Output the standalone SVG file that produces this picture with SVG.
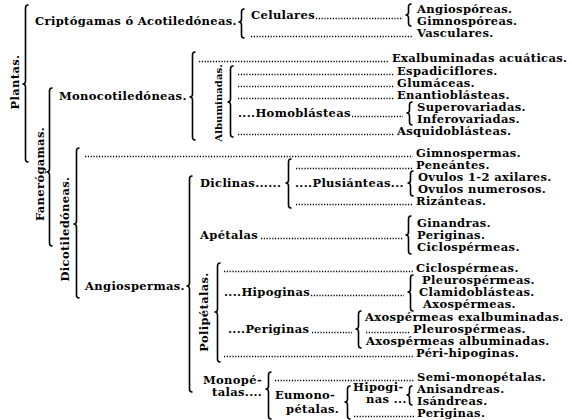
<svg xmlns="http://www.w3.org/2000/svg" width="572" height="420" viewBox="0 0 572 420">
<style>
text{font-family:"DejaVu Serif","Liberation Serif",serif;font-weight:bold;font-size:10.3px;letter-spacing:0.3px;fill:#000}
.v{text-anchor:middle}
.sm{font-size:9.2px;letter-spacing:0}
.b{fill:none;stroke:#000;stroke-width:1.6;stroke-linecap:round;stroke-linejoin:round}
.d{stroke:#000;stroke-width:1.3;stroke-dasharray:1.2 1.6}
</style>
<rect width="572" height="420" fill="#fff"/>
<g id="connectors">
<path class="b" d="M28,5 Q25.5,5 25.5,8 L25.5,81 Q25.5,84 23,84 Q25.5,84 25.5,87 L25.5,159 Q25.5,162 28,162"/>
<path class="b" d="M244,9 Q241.5,9 241.5,12 L241.5,19 Q241.5,22 239,22 Q241.5,22 241.5,25 L241.5,35 Q241.5,38 244,38"/>
<path class="b" d="M411,4 Q408.5,4 408.5,7 L408.5,12 Q408.5,15 406,15 Q408.5,15 408.5,18 L408.5,23 Q408.5,26 411,26"/>
<path class="b" d="M52,88 Q49.5,88 49.5,91 L49.5,169 Q49.5,172 47,172 Q49.5,172 49.5,175 L49.5,243 Q49.5,246 52,246"/>
<path class="b" d="M195,52 Q192.5,52 192.5,55 L192.5,94 Q192.5,97 190,97 Q192.5,97 192.5,100 L192.5,137 Q192.5,140 195,140"/>
<path class="b" d="M233,66 Q230.5,66 230.5,69 L230.5,99 Q230.5,102 228,102 Q230.5,102 230.5,105 L230.5,134 Q230.5,137 233,137"/>
<path class="b" d="M412,102 Q409.5,102 409.5,105 L409.5,110 Q409.5,113 407,113 Q409.5,113 409.5,116 L409.5,122 Q409.5,125 412,125"/>
<path class="b" d="M79,148 Q76.5,148 76.5,151 L76.5,221 Q76.5,224 74,224 Q76.5,224 76.5,227 L76.5,295 Q76.5,298 79,298"/>
<path class="b" d="M192,176 Q189.5,176 189.5,179 L189.5,283 Q189.5,286 187,286 Q189.5,286 189.5,289 L189.5,389 Q189.5,392 192,392"/>
<path class="b" d="M291,159 Q288.5,159 288.5,162 L288.5,180 Q288.5,183 286,183 Q288.5,183 288.5,186 L288.5,205 Q288.5,208 291,208"/>
<path class="b" d="M413,171 Q410.5,171 410.5,174 L410.5,180 Q410.5,183 408,183 Q410.5,183 410.5,186 L410.5,193 Q410.5,196 413,196"/>
<path class="b" d="M411,216 Q408.5,216 408.5,219 L408.5,232 Q408.5,235 406,235 Q408.5,235 408.5,238 L408.5,251 Q408.5,254 411,254"/>
<path class="b" d="M220,263 Q217.5,263 217.5,266 L217.5,309 Q217.5,312 215,312 Q217.5,312 217.5,315 L217.5,359 Q217.5,362 220,362"/>
<path class="b" d="M413,275 Q410.5,275 410.5,278 L410.5,289 Q410.5,292 408,292 Q410.5,292 410.5,295 L410.5,308 Q410.5,311 413,311"/>
<path class="b" d="M361,311 Q358.5,311 358.5,314 L358.5,326 Q358.5,329 356,329 Q358.5,329 358.5,332 L358.5,345 Q358.5,348 361,348"/>
<path class="b" d="M271,372 Q268.5,372 268.5,375 L268.5,386 Q268.5,389 266,389 Q268.5,389 268.5,392 L268.5,416 Q268.5,419 271,419"/>
<path class="b" d="M350,386 Q347.5,386 347.5,389 L347.5,399 Q347.5,402 345,402 Q347.5,402 347.5,405 L347.5,416 Q347.5,419 350,419"/>
<path class="b" d="M412,386 Q409.5,386 409.5,389 L409.5,392 Q409.5,395 407,395 Q409.5,395 409.5,398 L409.5,402 Q409.5,405 412,405"/>
<line class="d" x1="316" y1="18.5" x2="403" y2="18.5"/>
<line class="d" x1="251" y1="36.5" x2="412" y2="36.5"/>
<line class="d" x1="199" y1="61.5" x2="389" y2="61.5"/>
<line class="d" x1="238" y1="74.5" x2="394" y2="74.5"/>
<line class="d" x1="238" y1="86.5" x2="394" y2="86.5"/>
<line class="d" x1="238" y1="98.5" x2="394" y2="98.5"/>
<line class="d" x1="352" y1="116.5" x2="403" y2="116.5"/>
<line class="d" x1="238" y1="134.5" x2="394" y2="134.5"/>
<line class="d" x1="85" y1="156.5" x2="413" y2="156.5"/>
<line class="d" x1="296" y1="168.5" x2="413" y2="168.5"/>
<line class="d" x1="296" y1="204.5" x2="413" y2="204.5"/>
<line class="d" x1="261" y1="238.5" x2="403" y2="238.5"/>
<line class="d" x1="224" y1="271.5" x2="413" y2="271.5"/>
<line class="d" x1="311" y1="295.5" x2="404" y2="295.5"/>
<line class="d" x1="312" y1="332.5" x2="352" y2="332.5"/>
<line class="d" x1="366" y1="332.5" x2="410" y2="332.5"/>
<line class="d" x1="224" y1="356.5" x2="413" y2="356.5"/>
<line class="d" x1="275" y1="380.5" x2="414" y2="380.5"/>
<line class="d" x1="354" y1="416.5" x2="414" y2="416.5"/>
</g>
<g id="plantas"><text class="v" transform="translate(19,82) rotate(-90) scale(1.12,1)">Plantas.</text></g>
<g id="criptogamas"><text transform="translate(35,25) scale(1.12,1)">Criptógamas ó Acotiledóneas.</text></g>
<g id="celulares"><text transform="translate(251,19) scale(1.12,1)">Celulares</text></g>
<g id="angiosporeas"><text transform="translate(417,13) scale(1.12,1)">Angiospóreas.</text></g>
<g id="gimnosporeas"><text transform="translate(417,25) scale(1.12,1)">Gimnospóreas.</text></g>
<g id="vasculares"><text transform="translate(417,37) scale(1.12,1)">Vasculares.</text></g>
<g id="fanerogamas"><text class="v" transform="translate(44,174) rotate(-90) scale(1.12,1)">Fanerógamas.</text></g>
<g id="monocotiledoneas"><text transform="translate(59,100) scale(1.12,1)">Monocotiledóneas.</text></g>
<g id="exalbuminadas"><text transform="translate(392,62) scale(1.12,1)">Exalbuminadas acuáticas.</text></g>
<g id="albuminadas"><text class="v sm" transform="translate(222,103) rotate(-90) scale(1.1,1)">Albuminadas.</text></g>
<g id="espadiciflores"><text transform="translate(397,75) scale(1.12,1)">Espadiciflores.</text></g>
<g id="glumaceas"><text transform="translate(397,87) scale(1.12,1)">Glumáceas.</text></g>
<g id="enantioblasteas"><text transform="translate(397,99) scale(1.12,1)">Enantioblásteas.</text></g>
<g id="homoblasteas"><text transform="translate(238,117) scale(1.12,1)">....Homoblásteas</text></g>
<g id="superovariadas"><text transform="translate(417,111) scale(1.12,1)">Superovariadas.</text></g>
<g id="inferovariadas"><text transform="translate(417,123) scale(1.12,1)">Inferovariadas.</text></g>
<g id="asquidoblasteas"><text transform="translate(397,135) scale(1.12,1)">Asquidoblásteas.</text></g>
<g id="dicotiledoneas"><text class="v" transform="translate(69,229) rotate(-90) scale(1.12,1)">Dicotiledóneas.</text></g>
<g id="gimnospermas"><text transform="translate(416,157) scale(1.12,1)">Gimnospermas.</text></g>
<g id="angiospermas"><text transform="translate(85,290) scale(1.12,1)">Angiospermas.</text></g>
<g id="diclinas"><text transform="translate(200,187) scale(1.12,1)">Diclinas......</text></g>
<g id="peneantes"><text transform="translate(416,169) scale(1.12,1)">Peneántes.</text></g>
<g id="plusianteas"><text transform="translate(295,187) scale(1.12,1)">....Plusiánteas...</text></g>
<g id="ovulos12"><text transform="translate(418,181) scale(1.12,1)">Ovulos 1-2 axilares.</text></g>
<g id="ovulosnum"><text transform="translate(418,193) scale(1.12,1)">Ovulos numerosos.</text></g>
<g id="rizanteas"><text transform="translate(416,205) scale(1.12,1)">Rizánteas.</text></g>
<g id="apetalas"><text transform="translate(200,239) scale(1.12,1)">Apétalas</text></g>
<g id="ginandras"><text transform="translate(417,227) scale(1.12,1)">Ginandras.</text></g>
<g id="periginas1"><text transform="translate(417,239) scale(1.12,1)">Periginas.</text></g>
<g id="ciclospermeas1"><text transform="translate(417,251) scale(1.12,1)">Ciclospérmeas.</text></g>
<g id="polipetalas"><text class="v" transform="translate(208,312) rotate(-90) scale(1.12,1)">Polipétalas.</text></g>
<g id="ciclospermeas2"><text transform="translate(416,272) scale(1.12,1)">Ciclospérmeas.</text></g>
<g id="hipoginas"><text transform="translate(224,296) scale(1.12,1)">....Hipoginas</text></g>
<g id="pleurospermeas1"><text transform="translate(422,284) scale(1.12,1)">Pleurospérmeas.</text></g>
<g id="clamidoblasteas"><text transform="translate(419,296) scale(1.12,1)">Clamidoblásteas.</text></g>
<g id="axospermeas"><text transform="translate(423,308) scale(1.12,1)">Axospérmeas.</text></g>
<g id="periginas2"><text transform="translate(228,333) scale(1.12,1)">....Periginas</text></g>
<g id="axoexalb"><text transform="translate(365,321) scale(1.12,1)">Axospérmeas exalbuminadas.</text></g>
<g id="pleurospermeas2"><text transform="translate(413,333) scale(1.12,1)">Pleurospérmeas.</text></g>
<g id="axoalb"><text transform="translate(366,345) scale(1.12,1)">Axospérmeas albuminadas.</text></g>
<g id="perihipoginas"><text transform="translate(416,357) scale(1.12,1)">Péri-hipoginas.</text></g>
<g id="monopetalas"><text transform="translate(203,384) scale(1.12,1)">Monopé-</text><text transform="translate(212,396) scale(1.12,1)">talas....</text></g>
<g id="semimonopetalas"><text transform="translate(417,381) scale(1.12,1)">Semi-monopétalas.</text></g>
<g id="eumonopetalas"><text transform="translate(275,399) scale(1.12,1)">Eumono-</text><text transform="translate(286,413) scale(1.12,1)">pétalas.</text></g>
<g id="hipogi"><text transform="translate(353,391) scale(1.12,1)">Hipogi-</text><text transform="translate(366,403) scale(1.12,1)">nas ...</text></g>
<g id="anisandreas"><text transform="translate(417,393) scale(1.12,1)">Anisandreas.</text></g>
<g id="isandreas"><text transform="translate(417,405) scale(1.12,1)">Isándreas.</text></g>
<g id="periginas3"><text transform="translate(417,417) scale(1.12,1)">Periginas.</text></g>
</svg>
